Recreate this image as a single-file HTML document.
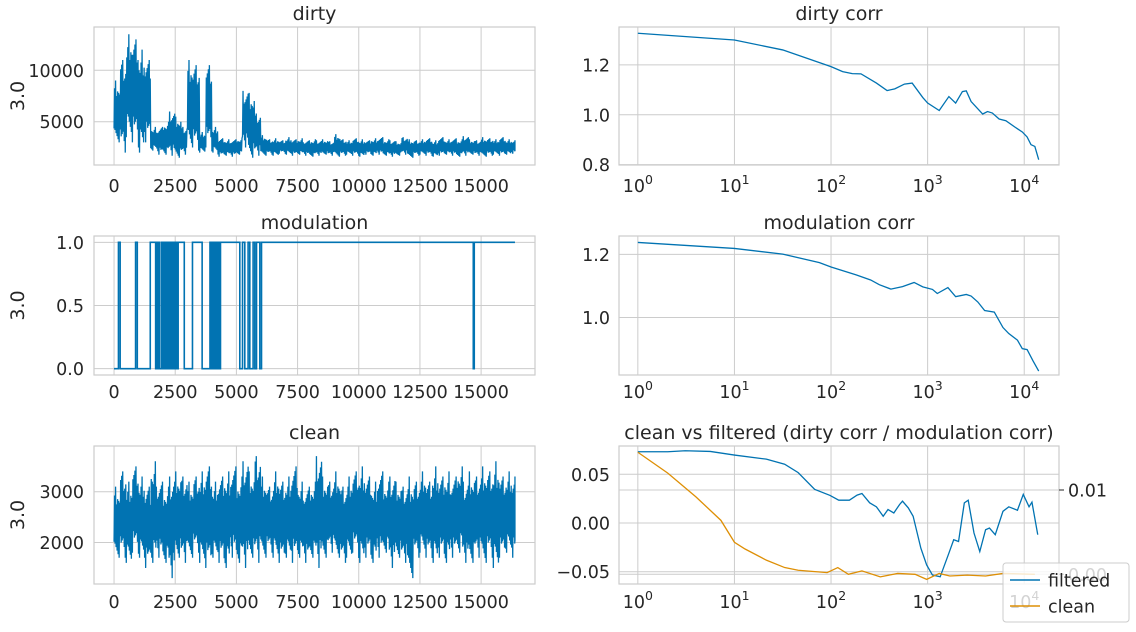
<!DOCTYPE html>
<html><head><meta charset="utf-8"><style>
html,body{margin:0;padding:0;background:#fff;}
svg{display:block;font-family:"DejaVu Sans","Liberation Sans",sans-serif;}
text{fill:#262626;}
</style></head>
<body>
<svg id="fig" width="1136" height="632" viewBox="0 0 1136 632" xmlns="http://www.w3.org/2000/svg"></svg>
<script>
// ---------------- data ----------------
const binStep = 250;
const seriesLength = 16383;
const dirtyLo = [3000,2000,3500,3000,2000,3000,2200,1800,1800,1700,1500,1800,2500,2200,2000,2500,2000,1600,1700,1600,1800,2500,1500,1700,
1700,1800,1700,1900,1800,1700,1800,1700,1600,1700,1800,1700,1600,1700,1800,1700,1600,1800,1700,1800,1700,1600,1700,1800,1500,1700,1800,1700,1600,1700,1800,1700,1600,1700,1800,1700,1600,1700,1800,1700,1800,1900];
const dirtyHi = [9000,11000,13500,13000,12000,11000,4500,4500,5000,6000,5500,4500,11000,10500,4000,10500,4500,3400,3300,3300,3400,8000,7800,5800,
3700,3300,3400,3200,3500,3300,3400,3200,3300,3200,3300,3100,3800,3300,3200,3400,3300,3200,3400,3500,3300,3200,3100,3500,3300,3200,3300,3400,3200,3500,3300,3400,3300,3600,3300,3200,3500,3400,3300,3500,3300,3200];
const cleanLo = [1700,1700,1600,1800,1700,1500,1600,1700,1600,1300,1700,1600,1700,1800,1600,1500,1700,1600,1500,1700,1600,1500,1700,1600,1700,1800,1700,1600,1700,1600,1700,1600,1700,1500,1700,1800,1700,1600,1700,1800,1600,1700,1600,1700,1800,1500,1700,1600,1300,1700,1800,1700,1600,1700,1600,1700,1800,1600,1600,1700,1600,1700,1500,1700,1800,1700];
const cleanHi = [3100,3400,3200,3500,3300,3100,3600,3200,3100,3300,3400,3300,3200,3300,3400,3500,3200,3300,3400,3500,3300,3600,3400,3700,3300,3100,3400,3200,3300,3500,3200,3100,3200,3700,3300,3200,3400,3100,3300,3400,3500,3300,3200,3400,3200,3300,3200,3100,3300,3200,3400,3200,3500,3300,3400,3300,3500,3200,3400,3300,3500,3400,3600,3300,3400,3300];
// modulation: intervals where value is 0 (elsewhere 1)
const modZeroStart = [0,250,950,1700,1800,1870,2000,2070,2130,2200,2260,2330,2400,2460,2530,2590,2870,3600,3940,3990,4040,4090,4140,4190,4240,4290,4330,5139,5343,5548,5753,5957,14680];
const modZeroEnd   = [180,880,1480,1760,1830,1950,2030,2100,2160,2230,2290,2360,2430,2490,2560,2620,3205,3920,3960,4010,4060,4110,4160,4210,4260,4310,4350,5250,5478,5683,5822,6026,14720];
// correlations (log10 lag, value)
const dirtyCorrLogX = [0,1,1.5,2,2.12,2.22,2.31,2.47,2.58,2.66,2.76,2.84,2.95,3.0,3.12,3.22,3.29,3.36,3.4,3.45,3.57,3.62,3.67,3.74,3.81,3.91,3.98,4.03,4.07,4.11,4.15];
const dirtyCorrVal  = [1.327,1.300,1.26,1.193,1.173,1.165,1.164,1.127,1.097,1.104,1.123,1.127,1.069,1.047,1.017,1.073,1.047,1.093,1.096,1.053,1.003,1.013,1.007,0.983,0.976,0.949,0.931,0.911,0.88,0.873,0.82];
const modCorrLogX = [0,1,1.5,1.88,2,2.26,2.41,2.5,2.62,2.74,2.86,2.95,3.05,3.1,3.21,3.29,3.4,3.45,3.52,3.59,3.69,3.78,3.84,3.93,3.98,4.03,4.09,4.15];
const modCorrVal  = [1.238,1.219,1.201,1.174,1.16,1.135,1.119,1.104,1.09,1.098,1.111,1.097,1.089,1.076,1.095,1.066,1.073,1.068,1.049,1.022,1.017,0.968,0.949,0.928,0.901,0.898,0.863,0.83];
const filtLogX = [0,0.31,0.49,0.75,1.0,1.33,1.52,1.66,1.83,1.99,2.08,2.19,2.27,2.32,2.4,2.47,2.54,2.59,2.65,2.71,2.74,2.8,2.85,2.93,2.99,3.05,3.13,3.22,3.27,3.32,3.38,3.42,3.48,3.54,3.6,3.64,3.7,3.78,3.84,3.93,3.99,4.05,4.08,4.14];
const filtVal  = [0.0731,0.0731,0.0741,0.0734,0.0697,0.0655,0.0603,0.0517,0.0345,0.0283,0.0234,0.0234,0.0286,0.0303,0.0207,0.0166,0.0069,0.0138,0.0103,0.019,0.0224,0.0155,0.0069,-0.0259,-0.0431,-0.0534,-0.0552,-0.031,-0.0172,-0.019,0.0207,0.0234,-0.0103,-0.0293,-0.0069,-0.0052,-0.012,0.012,0.0166,0.0131,0.0293,0.0166,0.0214,-0.012];
const cleanCorrLogX = [0,0.31,0.6,0.86,1.0,1.11,1.33,1.52,1.66,1.96,2.07,2.18,2.32,2.51,2.69,2.87,2.99,3.12,3.23,3.41,3.6,3.78,4.11];
const cleanCorrVal  = [0.01448,0.012,0.0092,0.0064,0.0038,0.003,0.00168,0.0008,0.00048,0.0002,0.0008,0,0.0004,-0.0003,0.0001,0,-0.0006,0.0001,-0.0002,-0.0001,-0.0002,0.0001,0];
const linTicks = [0,2500,5000,7500,10000,12500,15000];
const logTicks = [0,1,2,3,4];
const dirtyTicks = [5000,10000];
const modTicks = [0,0.5,1.0];
const modTickLabels = ["0.0","0.5","1.0"];
const cleanTicks = [2000,3000];
const dcTicks = [0.8,1.0,1.2];
const mcTicks = [1.0,1.2];
const cvfTicks = [-0.05,0,0.05];
const cvfTickLabels = ["\u22120.05","0.00","0.05"];
const rightTicks = [0,0.01];
const rightTickLabels = ["0.00","0.01"];

// ---------------- helpers ----------------
const NS = "http://www.w3.org/2000/svg";
const fig = document.getElementById("fig");
function mk(tag, attrs, parent){const e=document.createElementNS(NS,tag);for(const k in attrs)e.setAttribute(k,attrs[k]);(parent||fig).appendChild(e);return e;}
const BLUE="#0173b2", ORANGE="#de8f05", GRID="#cccccc";
const TICKFS=17.5, TITLEFS=19;
// stroke texture inside each bin (fraction of the half-range reached by each zigzag)
const zigShape = [0.55,0.75,0.6,1.0,0.7,0.5,0.8,0.65,0.9,0.6,1.0,0.55];

function panel(name,x0,x1,y0,y1,xmin,xmax,ymin,ymax){
  const g=mk("g",{});
  
  
  const sx=v=>x0+(v-xmin)/(xmax-xmin)*(x1-x0);
  const sy=v=>y1-(v-ymin)/(ymax-ymin)*(y1-y0);
  return {g,sx,sy,x0,x1,y0,y1};
}
function frame(p){
  const r=mk("rect",{x:p.x0,y:p.y0,width:p.x1-p.x0,height:p.y1-p.y0,fill:"none",stroke:GRID,"stroke-width":1.2},p.g);
  
  
}
function xgrid(p,ticks,labelFn,labelY){
  ticks.forEach((t,i)=>{
    const x=p.sx(t);
    const l=mk("line",{x1:x,x2:x,y1:p.y0,y2:p.y1,stroke:GRID,"stroke-width":1},p.g);
    
    
    const tx=mk("text",{x:x,y:labelY,"font-size":TICKFS,"text-anchor":"middle"},p.g);
    labelFn(tx,t,i);
    
    
  });
}
function ygrid(p,ticks,labels,labelX){
  ticks.forEach((t,i)=>{
    const y=p.sy(t);
    const l=mk("line",{x1:p.x0,x2:p.x1,y1:y,y2:y,stroke:GRID,"stroke-width":1},p.g);
    
    
    const tx=mk("text",{x:labelX,y:y+6.5,"font-size":TICKFS,"text-anchor":"end"},p.g);
    tx.textContent=labels?labels[i]:String(t);
    
    
  });
}
function title(p,txt){
  const t=mk("text",{x:(p.x0+p.x1)/2,y:p.y0-7,"font-size":TITLEFS,"text-anchor":"middle"},p.g);
  t.textContent=txt;
  
  
}
function ylabel(p){
  const cy=(p.y0+p.y1)/2;
  const t=mk("text",{x:24,y:cy,"font-size":TITLEFS,"text-anchor":"middle",transform:`rotate(-90 24 ${cy})`},p.g);
  t.textContent="3.0";
  
  
}
const linLabel=(tx,t)=>{tx.textContent=String(t);};
const logLabel=(tx,t)=>{tx.textContent="10";const s=mk("tspan",{dy:-8,"font-size":12.5},tx);s.textContent=String(t);};
function band(p,lo,hi,name){
  const pts=[];
  const N=zigShape.length;
  for(let i=0;i<lo.length;i++){
    const xs=i*binStep;
    const mid=(lo[i]+hi[i])/2;
    for(let k=0;k<N;k++){
      const xv=Math.min(xs+k*binStep/N,seriesLength);
      const f=zigShape[(k+i*5)%N];
      const v=k%2?mid+(hi[i]-mid)*f:mid-(mid-lo[i])*f;
      pts.push(p.sx(xv).toFixed(2)+","+p.sy(v).toFixed(2));
    }
  }
  const pl=mk("polyline",{points:pts.join(" "),fill:"none",stroke:BLUE,"stroke-width":1.3,"stroke-linejoin":"bevel"},p.g);
  
  
}
function curve(p,xs,ys,color,name,syFn){
  const f=syFn||p.sy;
  const pts=xs.map((x,i)=>p.sx(x).toFixed(2)+","+f(ys[i]).toFixed(2));
  const pl=mk("polyline",{points:pts.join(" "),fill:"none",stroke:color,"stroke-width":1.3},p.g);
  
  
}
const LX0=94,LX1=535,RX0=619,RX1=1059;
const XMIN=-819, XMAX=17202;
const LOGMIN=-0.195, LOGMAX=4.36;

// ---- dirty ----
let p=panel("dirty-panel",LX0,LX1,27,165,XMIN,XMAX,800,14200);
frame(p); xgrid(p,linTicks,linLabel,192); ygrid(p,dirtyTicks,null,84); title(p,"dirty"); ylabel(p);
band(p,dirtyLo,dirtyHi,"dirty-series");

// ---- modulation ----
p=panel("modulation-panel",LX0,LX1,236,375,XMIN,XMAX,-0.05,1.05);
frame(p); xgrid(p,linTicks,linLabel,398); ygrid(p,modTicks,modTickLabels,84); title(p,"modulation"); ylabel(p);
(function(){
  const pts=[];
  let cur=0;
  for(let i=0;i<modZeroStart.length;i++){
    if(modZeroStart[i]>cur){pts.push([cur,1],[modZeroStart[i],1]);}
    pts.push([modZeroStart[i],0],[modZeroEnd[i],0]);
    cur=modZeroEnd[i];
  }
  pts.push([cur,1],[seriesLength,1]);
  const pl=mk("polyline",{points:pts.map(q=>p.sx(q[0]).toFixed(2)+","+p.sy(q[1]).toFixed(2)).join(" "),fill:"none",stroke:BLUE,"stroke-width":1.6},p.g);
  
  
})();

// ---- clean ----
p=panel("clean-panel",LX0,LX1,446,584,XMIN,XMAX,1184,3900);
frame(p); xgrid(p,linTicks,linLabel,608); ygrid(p,cleanTicks,null,84); title(p,"clean"); ylabel(p);
band(p,cleanLo,cleanHi,"clean-series");

// ---- dirty corr ----
p=panel("dirty-corr-panel",RX0,RX1,27,165,LOGMIN,LOGMAX,0.7985,1.352);
frame(p); xgrid(p,logTicks,logLabel,192); ygrid(p,dcTicks,["0.8","1.0","1.2"],610); title(p,"dirty corr");
curve(p,dirtyCorrLogX,dirtyCorrVal,BLUE,"dirty-corr-line");

// ---- modulation corr ----
p=panel("modulation-corr-panel",RX0,RX1,236,375,LOGMIN,LOGMAX,0.8174,1.2585);
frame(p); xgrid(p,logTicks,logLabel,398); ygrid(p,mcTicks,["1.0","1.2"],610); title(p,"modulation corr");
curve(p,modCorrLogX,modCorrVal,BLUE,"modulation-corr-line");

// ---- clean vs filtered ----
p=panel("clean-vs-filtered-panel",RX0,RX1,446,584,LOGMIN,LOGMAX,-0.0626,0.0790);
frame(p); xgrid(p,logTicks,logLabel,608); ygrid(p,cvfTicks,cvfTickLabels,610); title(p,"clean vs filtered (dirty corr / modulation corr)");
const ry=v=>574.3-(v/0.01)*84.3;
rightTicks.forEach((t,i)=>{
  const y=ry(t);
  const l=mk("line",{x1:p.x0,x2:p.x1,y1:y,y2:y,stroke:GRID,"stroke-width":1},p.g);
  
  
  const tk=mk("line",{x1:p.x1,x2:p.x1+5,y1:y,y2:y,stroke:"#262626","stroke-width":1},p.g);
  
  
  const tx=mk("text",{x:p.x1+9,y:y+6.5,"font-size":TICKFS,"text-anchor":"start"},p.g);
  tx.textContent=rightTickLabels[i];
  
  
});
curve(p,filtLogX,filtVal,BLUE,"filtered-line");
curve(p,cleanCorrLogX,cleanCorrVal,ORANGE,"clean-corr-line",ry);

// ---- legend ----
const lg=mk("g",{});


const lb=mk("rect",{x:1003,y:563,width:126,height:59,rx:3,fill:"#ffffff","fill-opacity":0.8,stroke:GRID,"stroke-width":1},lg);


[["filtered",BLUE,580],["clean",ORANGE,606]].forEach(e=>{
  const ln=mk("line",{x1:1010,x2:1040,y1:e[2],y2:e[2],stroke:e[1],"stroke-width":1.5},lg);
  
  
  const t=mk("text",{x:1048,y:e[2]+6.5,"font-size":TICKFS},lg);
  t.textContent=e[0];
  
  
});
</script>
</body></html>
